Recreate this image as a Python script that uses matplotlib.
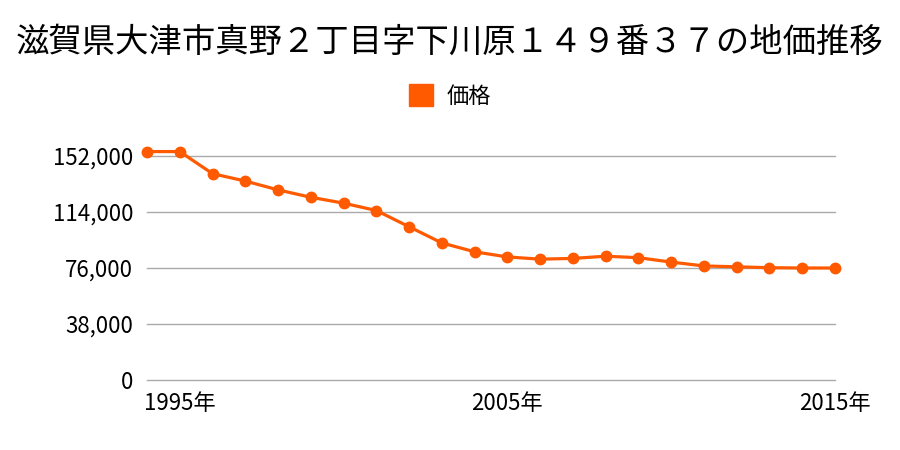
import matplotlib

matplotlib.use("Agg")
import matplotlib.pyplot as plt
from matplotlib.ticker import FuncFormatter

plt.rcParams["font.family"] = ["Noto Sans CJK JP", "DejaVu Sans"]

# データ
years = list(range(1994, 2016))
prices = [155000, 155000, 140000, 135000, 129000, 124000, 120000, 115000,
          104000, 93000, 87000, 83500, 82000, 82500, 84000, 83000,
          80000, 77400, 76800, 76200, 76000, 76000]
yticks = [0, 38000, 76000, 114000, 152000]
xticks = [1995, 2005, 2015]
title = "滋賀県大津市真野２丁目字下川原１４９番３７の地価推移"
series_name = "価格"
color = "#FF5A00"

fig = plt.figure(figsize=(9, 4.5), dpi=100)
ax = fig.add_axes([147 / 900, 1 - 380 / 450, (835 - 147) / 900, 240 / 450])

ax.plot(years, prices, "-o", color=color, linewidth=2.3, markersize=7.5,
        clip_on=False, zorder=3, label=series_name)

ax.set_xlim(1994, 2015)
ax.set_ylim(0, 152000 * 240 / 224)
ax.set_yticks(yticks)
ax.yaxis.set_major_formatter(FuncFormatter(lambda v, _: f"{int(v):,}"))
ax.set_xticks(xticks)
ax.set_xticklabels([f"{x}年" for x in xticks])
ax.tick_params(length=0, labelsize=16, colors="#000000")
ax.tick_params(axis="x", pad=9)
ax.tick_params(axis="y", pad=10)
ax.grid(axis="y", color="#aaaaaa", linewidth=1)
for gl in ax.get_ygridlines():
    gl.set_clip_on(False)
ax.set_axisbelow(True)
for s in ax.spines.values():
    s.set_visible(False)

fig.text(0.5, 1 - 42 / 450, title, ha="center", va="center", fontsize=24)
fig.legend(loc="center", bbox_to_anchor=(0.5, 1 - 96 / 450), frameon=False,
           fontsize=16, handlelength=1.1, handleheight=1.1, handletextpad=0.6,
           handles=[plt.Rectangle((0, 0), 1, 1, color=color)], labels=[series_name])

fig.savefig("out.png", dpi=100)
